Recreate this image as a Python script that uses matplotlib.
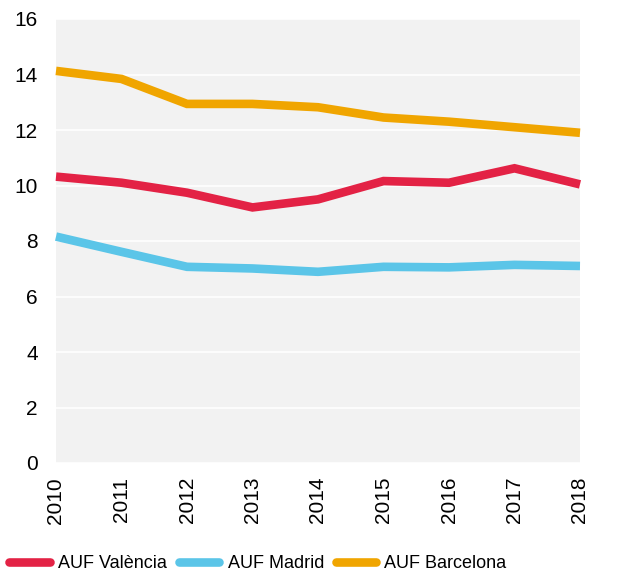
import matplotlib.pyplot as plt

plt.rcParams['font.family'] = ['Liberation Sans', 'DejaVu Sans']

# Data
years = [2010, 2011, 2012, 2013, 2014, 2015, 2016, 2017, 2018]
valencia = [10.32, 10.10, 9.74, 9.21, 9.50, 10.16, 10.10, 10.62, 10.04]
madrid = [8.16, 7.61, 7.07, 7.01, 6.89, 7.07, 7.05, 7.14, 7.10]
barcelona = [14.13, 13.84, 12.94, 12.94, 12.82, 12.45, 12.30, 12.10, 11.90]

series = [
    ("AUF València", valencia, "#E32245"),
    ("AUF Madrid", madrid, "#5BC5E8"),
    ("AUF Barcelona", barcelona, "#F0A500"),
]
y_ticks = [0, 2, 4, 6, 8, 10, 12, 14, 16]

fig = plt.figure(figsize=(6.18, 5.76), dpi=100)
ax = fig.add_axes([56 / 618, 1 - 463 / 576, (580 - 56) / 618, (463 - 19) / 576])
ax.set_facecolor("#F2F2F2")

for label, values, color in series:
    ax.plot(years, values, color=color, lw=6.2, label=label,
            solid_capstyle="butt", solid_joinstyle="miter", clip_on=False, zorder=3)

ax.set_xlim(years[0], years[-1])
ax.set_ylim(0, 16)
ax.set_yticks(y_ticks)
ax.set_xticks(years)
ax.set_xticklabels([str(y) for y in years], rotation=90)
ax.grid(axis="y", color="white", lw=1.2)
ax.set_axisbelow(True)
for s in ax.spines.values():
    s.set_visible(False)
ax.tick_params(axis="y", length=0, pad=13, labelsize=15)
ax.tick_params(axis="x", length=0, pad=10, labelsize=15)

leg = fig.legend(loc="center", bbox_to_anchor=(258 / 618, 1 - 564 / 576), ncol=3,
                 frameon=False, fontsize=13, handlelength=2.25, handletextpad=0.45,
                 columnspacing=0.65, borderaxespad=0, borderpad=0)
for line in leg.get_lines():
    line.set_solid_capstyle("round")

fig.savefig("out.png", dpi=100)
